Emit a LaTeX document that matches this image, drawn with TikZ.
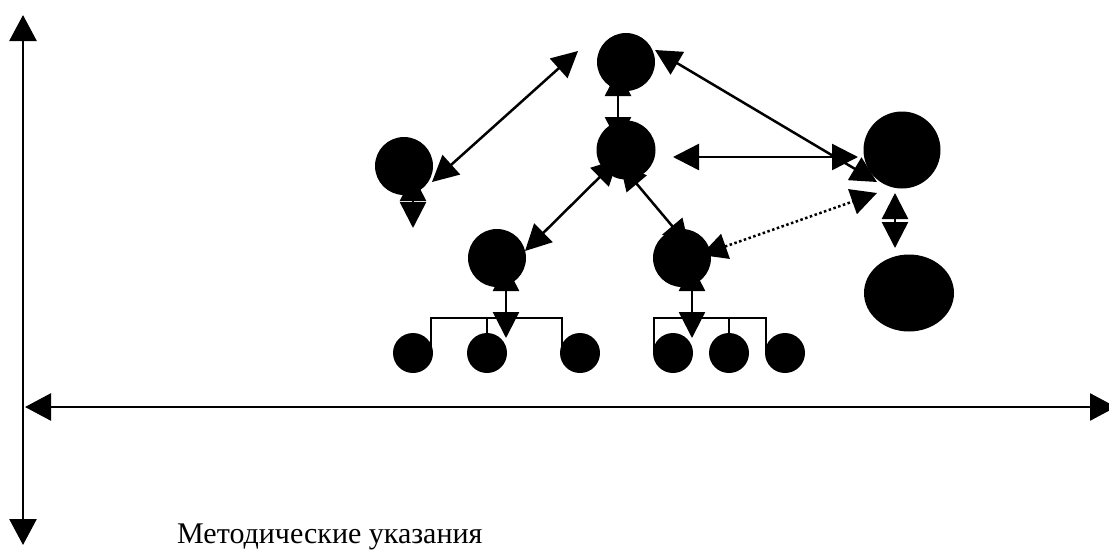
\documentclass[tikz,border=0pt]{standalone}
\usepackage{fontspec}
\setmainfont{Liberation Serif}
\usetikzlibrary{arrows.meta,calc,shapes.geometric}
\tikzset{
  ln/.style={line width=2.5pt, line join=miter},
  dbl/.style={ln, {Triangle[length=26pt,width=26pt]}-{Triangle[length=26pt,width=26pt]}},
  axis/.style={line width=2.6pt, {Triangle[length=26pt,width=27pt]}-{Triangle[length=26pt,width=27pt]}},
  dots/.style={line width=2.5pt, dash pattern=on 2.5pt off 2.5pt},
  blob/.style={circle, fill=black, draw=none, inner sep=0pt, minimum size=#1},
  oval/.style={ellipse, fill=black, draw=none, inner sep=0pt, minimum width=90pt, minimum height=77pt},
}
\begin{document}
\begin{tikzpicture}[x=1pt, y=-1pt]
  \useasboundingbox (0,0) rectangle (1109,550);

  % upper nodes
  \node[blob=58pt] (A) at (404,166) {};
  \node[blob=58pt] (T) at (626,62) {};
  \node[blob=59pt] (M) at (626,150) {};
  \node[blob=77pt] (R) at (902,150) {};
  \node[oval] (E) at (909,293) {};
  \node[blob=58pt] (L) at (497,258) {};
  \node[blob=58pt] (K) at (682,258) {};

  % lower row
  \node[blob=40pt] (c1) at (413,353) {};
  \node[blob=40pt] (c2) at (487,353) {};
  \node[blob=40pt] (c3) at (580,353) {};
  \node[blob=40pt] (c4) at (673,353) {};
  \node[blob=40pt] (c5) at (729,353) {};
  \node[blob=40pt] (c6) at (785,353) {};

  % free ends of the short arrows
  \coordinate (Aend) at (413,228);
  \coordinate (Lend) at (506,338);
  \coordinate (Kend) at (692,338);

  % axes
  \coordinate (ytop) at (23,15);
  \coordinate (ybot) at (23,545);
  \coordinate (xleft) at (25,407);
  \coordinate (xright) at (1116,407);
  \draw[axis] (ytop) -- (ybot);
  \draw[axis] (xleft) -- (xright);

  % brackets over the lower rows
  \draw[ln] ($(c1)+(18,-5)$) -- ($(c1)+(18,-35)$) -- ($(c3)+(-18,-35)$) -- ($(c3)+(-18,0)$);
  \draw[ln] ($(c2)+(0,-19)$) -- ($(c2)+(0,-35)$);
  \draw[ln] ($(c4)+(-19,0)$) -- ($(c4)+(-19,-35)$) -- ($(c6)+(-19,-35)$) -- ($(c6)+(-19,0)$);
  \draw[ln] ($(c5)+(0,-19)$) -- ($(c5)+(0,-35)$);

  % connectors
  \draw[dbl] ($(A)+(28,16)$) -- ($(T)+(-48,-11)$);
  \draw[dbl] ($(T)+(-8,8)$) -- ($(M)+(-8,-7)$);
  \draw[dbl] ($(T)+(29,-12)$) -- ($(R)+(-25,32)$);
  \draw[dbl] ($(M)+(47,7)$) -- ($(R)+(-44,7)$);
  \draw[dbl, dots] ($(K)+(19,-3)$) -- ($(R)+(-25,43)$);
  \draw[dbl] ($(M)+(-8,9)$) -- ($(L)+(28,-7)$);
  \draw[dbl] ($(M)+(-6,14)$) -- ($(K)+(7,-12)$);
  \draw[dbl] ($(A)+(9,9)$) -- (Aend);
  \draw[dbl] ($(R)+(-7,43)$) -- ($(E)+(-14,-45)$);
  \draw[dbl] ($(L)+(9,7)$) -- (Lend);
  \draw[dbl] ($(K)+(10,7)$) -- (Kend);

  % caption
  \node[anchor=base west, inner sep=0pt, font=\fontsize{30}{36}\selectfont] (cap) at (177,543) {Методические указания};
\end{tikzpicture}
\end{document}
